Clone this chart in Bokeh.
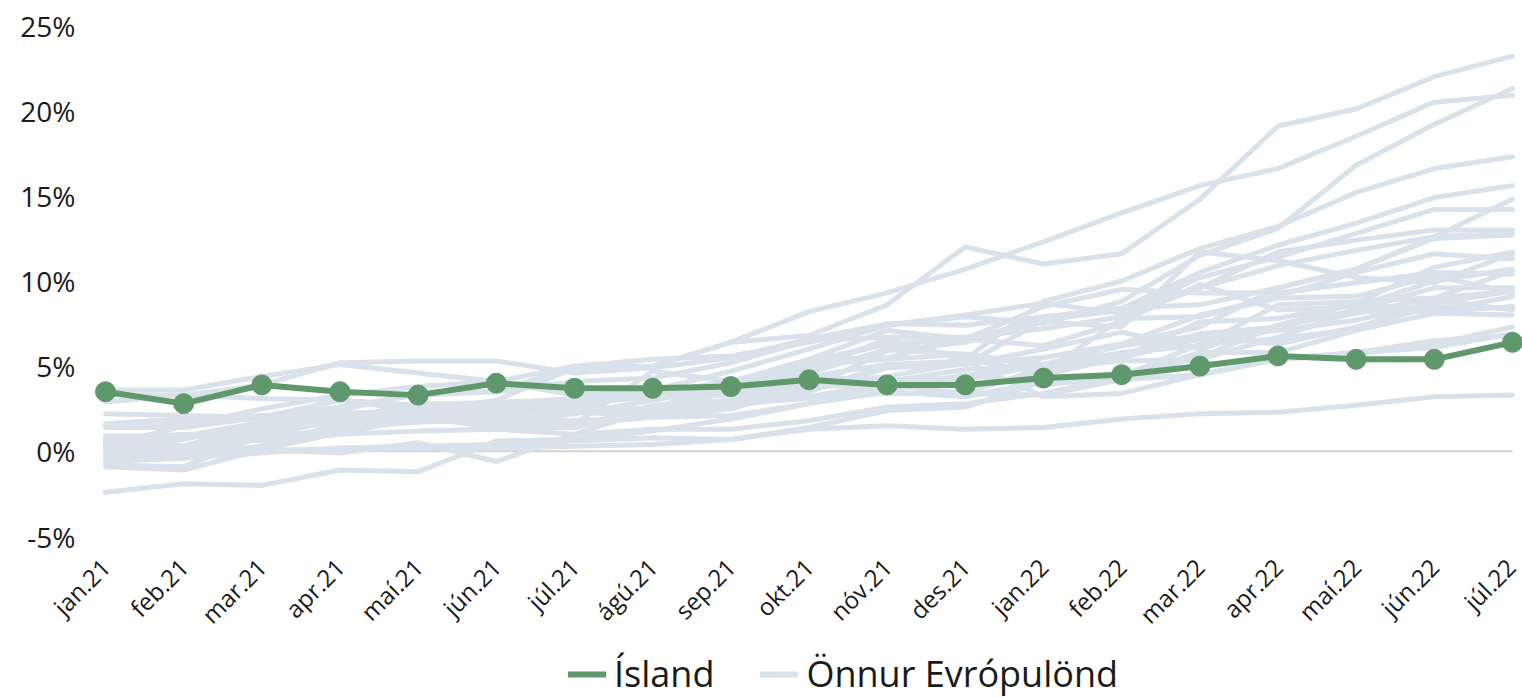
import math
from bokeh.plotting import figure
from bokeh.layouts import column
from bokeh.models import Legend, LegendItem, FixedTicker, Range1d
from bokeh.embed import file_html
from bokeh.resources import INLINE

months = ["jan.21", "feb.21", "mar.21", "apr.21", "maí.21", "jún.21", "júl.21",
          "ágú.21", "sep.21", "okt.21", "nóv.21", "des.21", "jan.22", "feb.22",
          "mar.22", "apr.22", "maí.22", "jún.22", "júl.22"]

y_ticks = [-5, 0, 5, 10, 15, 20, 25]
y_labels = ["-5%", "0%", "5%", "10%", "15%", "20%", "25%"]

island = [3.5, 2.8, 3.9, 3.5, 3.3, 4.0, 3.7, 3.7, 3.8, 4.2, 3.9, 3.9,
          4.3, 4.5, 5.0, 5.6, 5.4, 5.4, 6.4]

austria = [1.4, 1.4, 2.0, 1.9, 2.8, 2.8, 2.9, 3.2, 3.3, 3.8, 4.1, 3.8, 4.5, 5.5, 6.6, 7.1, 7.7, 8.7, 9.4]
belgium = [0.6, 0.3, 1.6, 2.2, 2.1, 2.3, 1.6, 4.7, 4.1, 5.4, 7.1, 6.6, 8.5, 9.5, 9.3, 9.3, 9.9, 10.5, 10.4]
bulgaria = [-0.3, -0.2, 0.8, 2.0, 2.4, 2.3, 2.5, 2.5, 4.0, 5.2, 6.3, 6.6, 7.7, 8.4, 10.5, 12.1, 13.4, 14.9, 15.6]
croatia = [0.1, 0.2, 1.3, 2.1, 2.2, 2.0, 2.8, 3.2, 3.5, 3.9, 4.4, 5.2, 5.5, 6.3, 7.3, 9.6, 10.7, 12.5, 12.7]
cyprus = [-0.8, -0.9, 0.9, 1.2, 2.0, 2.2, 2.4, 2.5, 3.5, 4.4, 4.1, 4.8, 5.0, 5.8, 6.2, 8.6, 8.8, 9.0, 10.6]
czechia = [2.2, 2.1, 2.0, 3.0, 2.4, 2.8, 3.1, 3.2, 4.0, 4.8, 6.6, 5.4, 8.8, 10.0, 11.9, 13.2, 15.2, 16.6, 17.3]
denmark = [0.6, 0.3, 0.7, 1.4, 1.7, 1.9, 1.6, 2.0, 2.5, 3.8, 3.9, 3.4, 4.9, 5.3, 5.4, 6.7, 8.2, 8.2, 9.1]
estonia = [-0.3, 0.1, 0.9, 1.9, 2.3, 3.0, 4.9, 5.0, 6.4, 6.8, 8.6, 12.0, 11.0, 11.6, 14.8, 19.1, 20.1, 22.0, 23.2]
finland = [0.6, 0.9, 1.7, 2.2, 2.4, 1.9, 1.8, 2.0, 2.1, 2.8, 3.5, 3.2, 4.1, 4.4, 5.8, 5.8, 7.1, 8.1, 8.0]
france = [0.8, 0.8, 1.4, 1.6, 1.8, 1.9, 1.5, 2.4, 2.7, 3.2, 3.4, 3.4, 3.3, 4.2, 5.1, 5.4, 5.8, 6.5, 6.8]
germany = [1.6, 1.6, 2.0, 2.1, 2.4, 2.1, 3.1, 3.4, 4.1, 4.6, 6.0, 5.7, 5.1, 5.5, 7.6, 7.8, 8.7, 8.2, 8.5]
greece = [-2.4, -1.9, -2.0, -1.1, -1.2, 0.6, 0.7, 1.2, 1.9, 2.8, 4.0, 4.4, 5.5, 6.3, 8.0, 9.1, 10.5, 11.6, 11.3]
hungary = [2.9, 3.3, 3.9, 5.2, 5.3, 5.3, 4.6, 4.9, 5.5, 6.6, 7.5, 7.4, 7.9, 8.4, 8.6, 9.6, 10.7, 12.6, 14.8]
ireland = [-0.1, -0.4, 0.1, 1.1, 1.9, 1.6, 2.2, 3.0, 3.8, 5.1, 5.4, 5.7, 5.0, 5.7, 6.9, 7.3, 8.3, 9.6, 9.6]
italy = [0.7, 1.0, 0.6, 1.0, 1.2, 1.3, 1.0, 2.5, 2.9, 3.2, 4.0, 4.2, 5.1, 6.2, 6.8, 6.3, 7.3, 8.5, 8.4]
latvia = [-0.6, -0.2, 0.3, 1.6, 2.7, 2.6, 2.5, 3.6, 4.7, 6.0, 7.4, 7.9, 7.5, 8.8, 11.5, 13.1, 16.8, 19.2, 21.3]
lithuania = [0.2, 0.7, 1.6, 2.4, 3.5, 3.5, 5.0, 5.0, 6.4, 8.2, 9.3, 10.7, 12.3, 14.0, 15.6, 16.6, 18.5, 20.5, 20.9]
luxembourg = [0.3, 1.5, 2.5, 3.3, 3.8, 4.1, 3.3, 3.5, 4.0, 5.3, 6.3, 5.4, 4.6, 7.8, 7.9, 9.0, 9.1, 10.3, 9.3]
malta = [0.2, 0.1, 0.1, 0.1, 0.2, 0.2, 0.3, 0.4, 0.7, 1.4, 2.4, 2.6, 4.1, 4.2, 4.5, 5.4, 5.8, 6.1, 6.9]
netherlands = [1.6, 1.9, 1.9, 1.7, 2.0, 1.4, 1.4, 2.7, 3.0, 3.7, 5.9, 6.4, 7.6, 7.3, 11.7, 11.2, 10.2, 9.9, 11.6]
poland = [3.6, 3.6, 4.4, 5.1, 4.6, 4.1, 5.0, 5.4, 5.6, 6.4, 7.4, 8.0, 8.7, 8.1, 10.2, 11.4, 12.8, 14.2, 14.2]
portugal = [0.2, 0.3, 0.1, -0.1, 0.5, -0.6, 1.0, 1.3, 1.3, 1.8, 2.6, 2.8, 3.4, 4.4, 5.5, 7.4, 8.1, 9.0, 9.4]
romania = [1.5, 1.8, 2.0, 2.6, 3.3, 3.5, 4.1, 4.3, 5.2, 6.5, 6.7, 6.7, 7.2, 7.9, 9.6, 11.7, 12.4, 13.0, 13.0]
slovenia = [-0.9, -1.1, 0.1, 1.4, 1.8, 1.7, 2.3, 2.1, 2.7, 3.5, 4.9, 5.1, 6.0, 7.0, 6.0, 7.4, 8.7, 10.8, 11.7]
slovakia = [0.9, 0.9, 1.3, 1.7, 2.2, 2.4, 2.9, 3.3, 4.0, 4.4, 5.1, 5.1, 7.7, 8.3, 9.6, 10.9, 11.8, 12.6, 12.8]
spain = [0.4, -0.1, 1.2, 2.0, 2.4, 2.5, 2.9, 3.3, 4.0, 5.4, 5.5, 6.6, 6.2, 7.6, 9.8, 8.3, 8.5, 10.0, 10.7]
sweden = [1.6, 1.9, 2.1, 2.0, 1.8, 1.8, 1.4, 2.4, 2.8, 3.1, 3.6, 4.5, 3.9, 4.4, 6.3, 6.6, 7.2, 8.9, 8.3]
norway = [3.3, 3.3, 3.1, 3.0, 2.7, 2.9, 3.0, 3.4, 4.1, 3.5, 5.1, 5.3, 3.2, 3.4, 4.5, 5.4, 5.7, 6.3, 7.3]
switzerland = [-0.6, -0.4, -0.1, 0.2, 0.3, 0.4, 0.6, 0.8, 0.7, 1.3, 1.5, 1.3, 1.4, 1.9, 2.2, 2.3, 2.7, 3.2, 3.3]

others = [austria, belgium, bulgaria, croatia, cyprus, czechia, denmark, estonia,
          finland, france, germany, greece, hungary, ireland, italy, latvia,
          lithuania, luxembourg, malta, netherlands, poland, portugal, romania,
          slovenia, slovakia, spain, sweden, norway, switzerland]

series_names = ["Ísland", "Önnur Evrópulönd"]

GREEN = "#5e986b"
GREY = "#d9e1ea"
TEXT = "#1a1a1a"
FONT = "Open Sans"

x = list(range(len(months)))

p = figure(width=1522, height=650,
           x_range=Range1d(-0.2559, 18.128), y_range=Range1d(-5, 25),
           output_backend="svg", toolbar_location=None,
           min_border_left=85, min_border_right=0, min_border_top=25,
           min_border_bottom=114)
p.outline_line_color = None
p.xgrid.visible = False
p.ygrid.visible = False

# zero line
p.segment(x0=[x[0]], y0=[0], x1=[x[-1]], y1=[0], line_color="#d2d2d2", line_width=2)

p.multi_line(xs=[x for _ in others], ys=others, line_color=GREY,
             line_width=5, line_cap="round", line_join="round")

p.line(x, island, line_color=GREEN, line_width=6, line_join="round")
p.scatter(x, island, size=20, fill_color=GREEN, line_color=GREEN)

# axes
p.yaxis.ticker = FixedTicker(ticks=y_ticks)
p.yaxis.major_label_overrides = {t: l for t, l in zip(y_ticks, y_labels)}
p.xaxis.ticker = FixedTicker(ticks=x)
p.xaxis.major_label_overrides = {i: m for i, m in zip(x, months)}
p.xaxis.major_label_orientation = math.pi / 4
for ax in (p.xaxis, p.yaxis):
    ax.axis_line_color = None
    ax.major_tick_line_color = None
    ax.minor_tick_line_color = None
    ax.major_tick_out = 0
    ax.major_tick_in = 0
    ax.major_label_text_color = TEXT
    ax.major_label_text_font = FONT
p.yaxis.major_label_text_font_size = "28px"
p.yaxis.major_label_standoff = 10
p.xaxis.major_label_text_font_size = "24px"
p.xaxis.major_label_standoff = 26

# legend strip (its lines lie outside its visible range; only the key shows)
lg = figure(width=1522, height=48, output_backend="svg", toolbar_location=None,
            min_border=0, x_axis_type=None, y_axis_type=None,
            x_range=Range1d(-10, -9), y_range=Range1d(-100, -99))
lg.grid.visible = False
lg.outline_line_color = None
r_is = lg.line(x, island, line_color=GREEN, line_width=6, line_cap="round")
r_ot = lg.line(x, others[0], line_color=GREY, line_width=6, line_cap="round")
legend = Legend(items=[LegendItem(label=series_names[0], renderers=[r_is]),
                       LegendItem(label=series_names[1], renderers=[r_ot])],
                orientation="horizontal", location=(483, 0),
                label_text_font=FONT, label_text_font_size="36px",
                label_text_color=TEXT, glyph_width=38, glyph_height=34,
                label_standoff=8, spacing=46, padding=0, margin=0,
                border_line_color=None, background_fill_alpha=0)
lg.add_layout(legend, "center")

layout = column(p, lg, spacing=0)
open("out.html", "w").write(file_html(layout, INLINE))
